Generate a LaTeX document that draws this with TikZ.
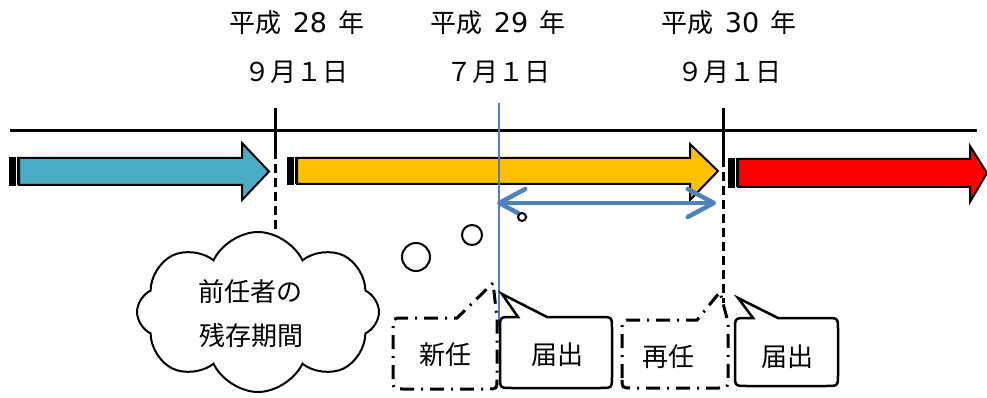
\documentclass[tikz,border=0pt]{standalone}
\usepackage{fontspec}
\newfontfamily\cjk{Noto Sans CJK JP}
\newfontfamily\dig{DejaVu Sans}
\usetikzlibrary{arrows.meta,shapes.symbols}
\definecolor{teal1}{HTML}{4BACC6}
\definecolor{gold1}{HTML}{FFC000}
\definecolor{red1}{HTML}{FF0000}
\definecolor{blue1}{HTML}{4F81BD}
\newcommand\gp{\hspace{0.45em}}
\newcommand\yr[1]{平成\gp{}{\dig\fontsize{27}{30}\selectfont #1}\gp{}年}
\begin{document}
\begin{tikzpicture}[x=1pt,y=-1pt,
  lbl/.style={font=\cjk\fontsize{26}{30}\selectfont, inner sep=0pt},
  tline/.style={line width=3pt},
  dsh/.style={line width=3pt, dash pattern=on 9pt off 5pt},
  dd/.style={line width=3pt, dash pattern=on 14pt off 7pt on 2pt off 7pt},
  solidco/.style={line width=2.5pt, fill=white},
  bub/.style={line width=2pt, draw, circle, fill=white, inner sep=0pt},
  blk/.style={draw=black, line width=2pt, line join=miter},
  barb/.tip={Straight Barb[length=26pt,width=28pt,round]},
]
\useasboundingbox (0,0) rectangle (987,398);

% coordinates
\coordinate (tlL) at (10,131);
\coordinate (tlR) at (977,131);
\coordinate (k1top) at (275,108);
\coordinate (k1mid) at (275,150);
\coordinate (k1bot) at (275,232);
\coordinate (k2top) at (723,108);
\coordinate (k2mid) at (723,158);
\coordinate (k2bot) at (723,303);
\coordinate (bltop) at (499,103);
\coordinate (blbot) at (499,327);
\coordinate (dl) at (497,203);
\coordinate (dr) at (716,203);

% timeline
\draw[tline] (tlL) -- (tlR);
\draw[tline] (k1top) -- (k1mid);
\draw[tline] (k2top) -- (k2mid);

% teal arrow
\filldraw[blk, fill=teal1] (19,158) -- (242,158) -- (242,143) -- (269,171.5) -- (242,200) -- (242,185) -- (19,185) -- cycle;
\filldraw[blk, fill=black] (10,158) rectangle (15,185);
\filldraw[blk, fill=black, line width=1pt] (17,158) rectangle (18,185);

% orange arrow
\filldraw[blk, fill=gold1] (297,158) -- (690,158) -- (690,144) -- (718,171) -- (690,200) -- (690,184) -- (297,184) -- cycle;
\filldraw[blk, fill=black] (288,158) rectangle (293,184);
\filldraw[blk, fill=black, line width=1pt] (295,158) rectangle (296,184);

% red arrow
\filldraw[blk, fill=red1] (738,159) -- (970,159) -- (970,146) -- (987,173) -- (970,202) -- (970,187) -- (738,187) -- cycle;
\filldraw[blk, fill=black] (729,159) rectangle (734,187);
\filldraw[blk, fill=black, line width=1pt] (736,159) rectangle (737,187);

% dashed ticks
\draw[dsh] (k1mid) -- (k1bot);
\draw[dsh] (k2mid) -- (k2bot);

% blue lines
\draw[blue1, line width=1.5pt] (bltop) -- (blbot);
\draw[blue1, line width=4.5pt, barb-barb] (dl) -- (dr);

% thought bubbles
\node[bub, minimum size=8pt] (b1) at (522,217) {};
\node[bub, minimum size=20pt] (b2) at (472,235) {};
\node[bub, minimum size=28pt] (b3) at (416,257) {};

% cloud
\node[cloud, draw, line width=2pt, fill=white, cloud puffs=8, cloud puff arc=130,
      minimum width=242pt, minimum height=160pt, inner sep=0pt] (cloud) at (258,312) {};
\node[lbl] (c1) at (250,292) {前任者の};
\node[lbl] (c2) at (251,336) {残存期間};

% callout 新任 (dash-dot)
\draw[dd] (393,379) -- (393,328) .. controls (393,318) .. (403,318) -- (457,318) -- (493,283) -- (497,318) -- (497,379) .. controls (497,389) .. (487,389) -- (403,389) .. controls (393,389) .. (393,379) -- cycle;
% callout 届出 1
\filldraw[solidco] (500,329) .. controls (500,317) .. (512,317) -- (518,317) -- (502,294) -- (547,317) -- (600,317) .. controls (612,317) .. (612,329) -- (612,376) .. controls (612,388) .. (600,388) -- (512,388) .. controls (500,388) .. (500,376) -- cycle;
% callout 再任 (dash-dot)
\draw[dd] (622,378) -- (622,330) .. controls (622,320) .. (632,320) -- (697,320) -- (720,292) -- (728,322) -- (728,378) .. controls (728,388) .. (718,388) -- (632,388) .. controls (622,388) .. (622,378) -- cycle;
% callout 届出 2
\filldraw[solidco] (735,330) .. controls (735,318) .. (747,318) -- (753,318) -- (738,298) -- (778,318) -- (826,318) .. controls (838,318) .. (838,330) -- (838,374) .. controls (838,386) .. (826,386) -- (747,386) .. controls (735,386) .. (735,374) -- cycle;

\node[lbl] (n1) at (445,355) {新任};
\node[lbl] (n2) at (557,355) {届出};
\node[lbl] (n3) at (668,357) {再任};
\node[lbl] (n4) at (787,357) {届出};

% date labels
\node[lbl] (d1a) at (297,23) {\yr{28}};
\node[lbl] (d1b) at (296,72) {９月１日};
\node[lbl] (d2a) at (498,23) {\yr{29}};
\node[lbl] (d2b) at (498,72) {７月１日};
\node[lbl] (d3a) at (729,23) {\yr{30}};
\node[lbl] (d3b) at (729,72) {９月１日};
\end{tikzpicture}
\end{document}
